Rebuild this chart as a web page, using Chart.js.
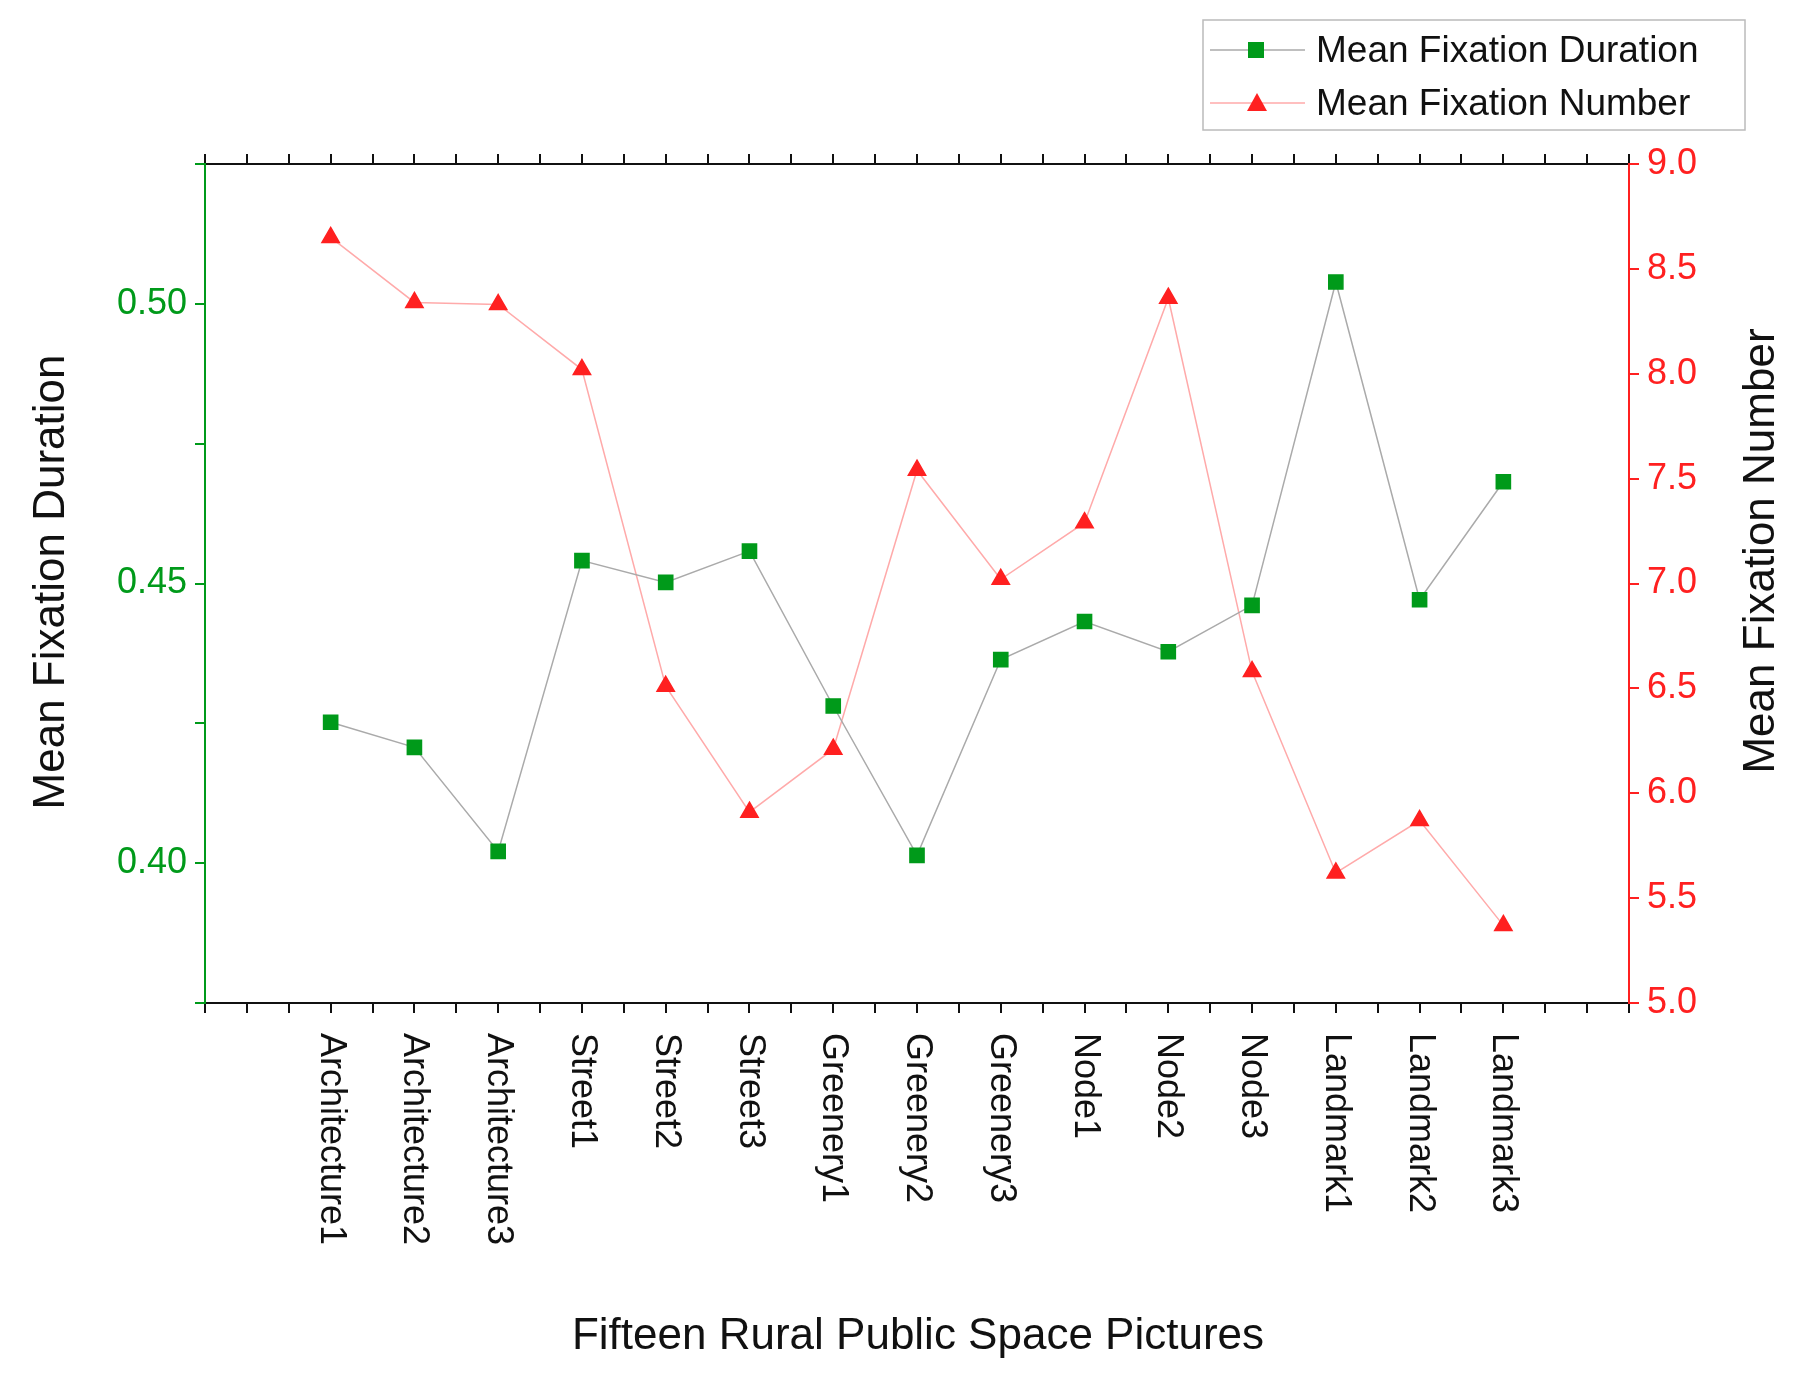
<!DOCTYPE html>
<html><head><meta charset="utf-8">
<script src="https://cdn.jsdelivr.net/npm/chart.js@4.4.3/dist/chart.umd.min.js"></script>
<style>html,body{margin:0;background:#fff}#wrap{width:1798px;height:1378px}</style>
</head><body><div id="wrap"><canvas id="c"></canvas></div>
<script>
const pictures = ["Architecture1","Architecture2","Architecture3","Street1","Street2","Street3",
  "Greenery1","Greenery2","Greenery3","Node1","Node2","Node3","Landmark1","Landmark2","Landmark3"];
const fixationDuration = [0.4252,0.4207,0.4021,0.4541,0.4502,0.4558,0.4281,0.4014,0.4364,0.4432,0.4378,0.4461,0.5039,0.4471,0.4682];
const fixationNumber = [8.65,8.34,8.33,8.02,6.51,5.91,6.21,7.54,7.02,7.29,8.36,6.58,5.62,5.87,5.37];

const GREEN = "#009a1a", RED = "#ff2020";
const FONT = "Liberation Sans, Arial, sans-serif";

const pts = (arr) => arr.map((v, i) => ({ x: i, y: v }));

// rotated x labels, axis titles, legend box
const extras = {
  id: "extras",
  afterDraw(chart) {
    const { ctx, chartArea, scales } = chart;
    ctx.save();
    ctx.fillStyle = "#111";
    ctx.font = `36px ${FONT}`;
    ctx.textAlign = "left";
    ctx.textBaseline = "middle";
    pictures.forEach((p, i) => {
      ctx.save();
      ctx.translate(scales.x.getPixelForValue(i), chartArea.bottom + 30);
      ctx.rotate(Math.PI / 2);
      ctx.fillText(p, 0, 0);
      ctx.restore();
    });
    ctx.font = `44px ${FONT}`;
    ctx.textAlign = "center";
    ctx.fillText("Fifteen Rural Public Space Pictures", 918, 1337);

    // y titles, both reading bottom-to-top
    [["Mean Fixation Duration", 52, 582], ["Mean Fixation Number", 1762, 551]].forEach(([t, x, y]) => {
      ctx.save();
      ctx.translate(x, y);
      ctx.rotate(-Math.PI / 2);
      ctx.fillText(t, 0, 0);
      ctx.restore();
    });

    // legend
    ctx.strokeStyle = "#bbb";
    ctx.lineWidth = 1.5;
    ctx.strokeRect(1203, 20, 542, 110);
    const rows = [
      { y: 50, line: "#aaa", label: "Mean Fixation Duration", mark: "rect", col: GREEN },
      { y: 103, line: "#ffaaaa", label: "Mean Fixation Number", mark: "tri", col: RED }
    ];
    rows.forEach(r => {
      ctx.strokeStyle = r.line;
      ctx.beginPath(); ctx.moveTo(1210, r.y); ctx.lineTo(1305, r.y); ctx.stroke();
      ctx.fillStyle = r.col;
      if (r.mark === "rect") ctx.fillRect(1248, r.y - 8, 16, 16);
      else { ctx.beginPath(); ctx.moveTo(1257, r.y - 10); ctx.lineTo(1267, r.y + 8); ctx.lineTo(1247, r.y + 8); ctx.closePath(); ctx.fill(); }
      ctx.fillStyle = "#111";
      ctx.font = `37px ${FONT}`;
      ctx.textAlign = "left";
      ctx.fillText(r.label, 1316, r.y + 2);
    });
    ctx.restore();
  }
};

const xTicks = {
  min: -1.5, max: 15.5,
  ticks: { stepSize: 0.5, display: false },
  grid: { drawOnChartArea: false, tickLength: 10, color: "#111", lineWidth: 2 },
  border: { color: "#111", width: 2 }
};

new Chart(document.getElementById("c"), {
  type: "scatter",
  data: {
    datasets: [
      { label: "Mean Fixation Duration", data: pts(fixationDuration), yAxisID: "y", showLine: true,
        borderColor: "#aaa", borderWidth: 1.5, pointStyle: "rect", pointRadius: 10, pointBackgroundColor: GREEN, pointBorderColor: GREEN },
      { label: "Mean Fixation Number", data: pts(fixationNumber), yAxisID: "y1", showLine: true,
        borderColor: "#ffaaaa", borderWidth: 1.5, pointStyle: "triangle", pointRadius: 10, pointBackgroundColor: RED, pointBorderColor: RED }
    ]
  },
  options: {
    responsive: true, maintainAspectRatio: false, animation: false,
    layout: { padding: 0 },
    plugins: { legend: { display: false }, tooltip: { enabled: false } },
    scales: {
      x: { type: "linear", position: "bottom", ...xTicks, afterFit: s => { s.height = 375; } },
      xTop: { type: "linear", position: "top", ...xTicks, afterFit: s => { s.height = 164; } },
      y: {
        position: "left", min: 0.375, max: 0.525,
        ticks: { stepSize: 0.025, color: GREEN, font: { size: 36, family: FONT }, padding: 8,
          callback: v => (Math.abs(v * 100 % 5) < 1e-6 || Math.abs(v * 100 % 5 - 5) < 1e-6) ? v.toFixed(2) : "" },
        grid: { drawOnChartArea: false, tickLength: 10, color: GREEN, lineWidth: 2 },
        border: { color: GREEN, width: 2 },
        afterFit: s => { s.width = 205; }
      },
      y1: {
        position: "right", min: 5, max: 9,
        ticks: { stepSize: 0.5, color: RED, font: { size: 36, family: FONT }, padding: 8, callback: v => v.toFixed(1) },
        grid: { drawOnChartArea: false, tickLength: 10, color: RED, lineWidth: 2 },
        border: { color: RED, width: 2 },
        afterFit: s => { s.width = 169; }
      }
    }
  },
  plugins: [extras]
});
</script></body></html>
